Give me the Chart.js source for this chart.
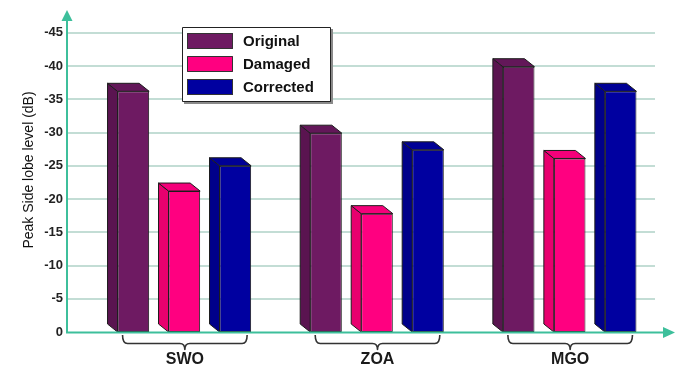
<!DOCTYPE html>
<html>
<head>
<meta charset="utf-8">
<script src="https://cdn.jsdelivr.net/npm/chart.js@4/dist/chart.umd.min.js"></script>
<style>
  html, body { margin: 0; padding: 0; background: #fff; }
</style>
</head>
<body>
<canvas id="pslChart" width="681" height="368"></canvas>
<script>
const categories = ['SWO', 'ZOA', 'MGO'];
const original = [36.2, 29.9, 39.9];
const damaged = [21.2, 17.8, 26.1];
const corrected = [25.0, 27.4, 36.2];
const yMax = 45;
const yStep = 5;

const FONT = '"Liberation Sans", Arial, Helvetica, sans-serif';
const AXIS_COLOR = '#3dbf9b';
const GRID_COLOR = '#c3ddd5';
const EDGE = '#1c1c1c';
const DX = -10, DY = -8;   // depth of the extruded bars
const AXIS_X = 67;         // where the vertical axis line sits

function poly(ctx, pts, fill) {
  ctx.beginPath();
  ctx.moveTo(pts[0][0], pts[0][1]);
  for (let i = 1; i < pts.length; i++) ctx.lineTo(pts[i][0], pts[i][1]);
  ctx.closePath();
  ctx.fillStyle = fill;
  ctx.fill();
  ctx.stroke();
}

const decor = {
  id: 'decor',
  beforeDatasetsDraw(chart) {
    const { ctx, chartArea, scales: { y } } = chart;
    ctx.save();
    ctx.strokeStyle = GRID_COLOR;
    ctx.lineWidth = 2;
    y.ticks.forEach(t => {
      if (t.value === 0) return;
      const py = Math.round(y.getPixelForValue(t.value));
      ctx.beginPath();
      ctx.moveTo(AXIS_X, py);
      ctx.lineTo(chartArea.right - 11, py);
      ctx.stroke();
    });
    ctx.restore();
  },
  afterDatasetsDraw(chart) {
    const { ctx, scales: { y } } = chart;
    ctx.save();
    ctx.strokeStyle = EDGE;
    ctx.lineWidth = 1;
    ctx.lineJoin = 'round';

    // side and top faces of every bar
    chart.data.datasets.forEach((ds, di) => {
      chart.getDatasetMeta(di).data.forEach(bar => {
        const { x, y: top, base, width } = bar.getProps(['x', 'y', 'base', 'width'], true);
        const x0 = x - width / 2, x1 = x + width / 2;
        poly(ctx, [[x0, top], [x0 + DX, top + DY], [x0 + DX, base + DY], [x0, base]], ds.sideColor);
        poly(ctx, [[x0, top], [x0 + DX, top + DY], [x1 + DX, top + DY], [x1, top]], ds.topColor);
      });
    });

    // axes with arrow heads
    const y0 = y.getPixelForValue(0) + 0.5;
    ctx.strokeStyle = AXIS_COLOR;
    ctx.fillStyle = AXIS_COLOR;
    ctx.lineWidth = 2;
    ctx.beginPath();
    ctx.moveTo(AXIS_X, y0);
    ctx.lineTo(AXIS_X, 20);
    ctx.moveTo(AXIS_X - 1, y0);
    ctx.lineTo(664, y0);
    ctx.stroke();
    ctx.beginPath();
    ctx.moveTo(AXIS_X, 10);
    ctx.lineTo(AXIS_X + 5.5, 21);
    ctx.lineTo(AXIS_X - 5.5, 21);
    ctx.closePath();
    ctx.fill();
    ctx.beginPath();
    ctx.moveTo(675, y0);
    ctx.lineTo(663, y0 - 5.5);
    ctx.lineTo(663, y0 + 5.5);
    ctx.closePath();
    ctx.fill();

    // braces and category names under each group
    const first = chart.getDatasetMeta(0).data;
    const last = chart.getDatasetMeta(chart.data.datasets.length - 1).data;
    ctx.strokeStyle = '#333';
    ctx.lineWidth = 1.6;
    ctx.fillStyle = '#1a1a1a';
    ctx.font = 'bold 16px ' + FONT;
    ctx.textAlign = 'center';
    ctx.textBaseline = 'middle';
    chart.data.labels.forEach((label, i) => {
      const l = first[i].x - first[i].width / 2 + 5;
      const r = last[i].x + last[i].width / 2 - 4;
      const c = (l + r) / 2;
      const top = 335, mid = 343.5, tip = 349.5, rad = 5;
      ctx.beginPath();
      ctx.moveTo(l, top);
      ctx.quadraticCurveTo(l, mid, l + rad, mid);
      ctx.lineTo(c - rad, mid);
      ctx.quadraticCurveTo(c, mid, c, tip);
      ctx.quadraticCurveTo(c, mid, c + rad, mid);
      ctx.lineTo(r - rad, mid);
      ctx.quadraticCurveTo(r, mid, r, top);
      ctx.stroke();
      ctx.fillText(label, c, 360);
    });

    // legend box
    const lx = 182, ly = 27, lw = 148, lh = 74;
    ctx.fillStyle = '#8a8a8a';
    ctx.fillRect(lx + 2, ly + 2, lw + 1, lh + 1);
    ctx.fillStyle = '#fff';
    ctx.fillRect(lx, ly, lw, lh);
    ctx.strokeStyle = '#222';
    ctx.lineWidth = 1;
    ctx.strokeRect(lx + 0.5, ly + 0.5, lw, lh);
    ctx.font = 'bold 15px ' + FONT;
    ctx.textAlign = 'left';
    chart.data.datasets.forEach((ds, di) => {
      const sy = 33 + di * 23;
      ctx.fillStyle = ds.backgroundColor;
      ctx.fillRect(187, sy, 46, 16);
      ctx.strokeStyle = '#333';
      ctx.strokeRect(187.5, sy + 0.5, 45, 15);
      ctx.fillStyle = '#111';
      ctx.fillText(ds.label, 243, sy + 8.5);
    });

    // vertical axis title
    ctx.translate(29, 170);
    ctx.rotate(-Math.PI / 2);
    ctx.font = '14px ' + FONT;
    ctx.textAlign = 'center';
    ctx.fillStyle = '#111';
    ctx.fillText('Peak Side lobe level (dB)', 0, 0);
    ctx.restore();
  }
};

new Chart(document.getElementById('pslChart'), {
  type: 'bar',
  data: {
    labels: categories,
    datasets: [
      {
        label: 'Original',
        data: original,
        backgroundColor: '#6e1a62',
        sideColor: '#5a1450',
        topColor: '#631759'
      },
      {
        label: 'Damaged',
        data: damaged,
        backgroundColor: '#ff0080',
        sideColor: '#e8006e',
        topColor: '#f5007a'
      },
      {
        label: 'Corrected',
        data: corrected,
        backgroundColor: '#0000a0',
        sideColor: '#00008a',
        topColor: '#000096'
      }
    ]
  },
  options: {
    responsive: false,
    animation: false,
    events: [],
    layout: { padding: { top: 27, right: 15, bottom: 36, left: 0 } },
    datasets: {
      bar: {
        borderColor: EDGE,
        borderWidth: 1,
        borderSkipped: false,
        categoryPercentage: 0.794,
        barPercentage: 0.62
      }
    },
    plugins: {
      legend: { display: false },
      tooltip: { enabled: false }
    },
    scales: {
      x: { display: false },
      y: {
        min: 0,
        max: yMax,
        afterFit(scale) { scale.width = 88; },
        grid: { display: false, drawTicks: false },
        border: { display: false },
        ticks: {
          stepSize: yStep,
          padding: 25,
          color: '#222',
          font: { family: FONT, size: 13, weight: 'bold' },
          callback: v => (v === 0 ? '0' : '-' + v)
        }
      }
    }
  },
  plugins: [decor]
});
</script>
</body>
</html>
